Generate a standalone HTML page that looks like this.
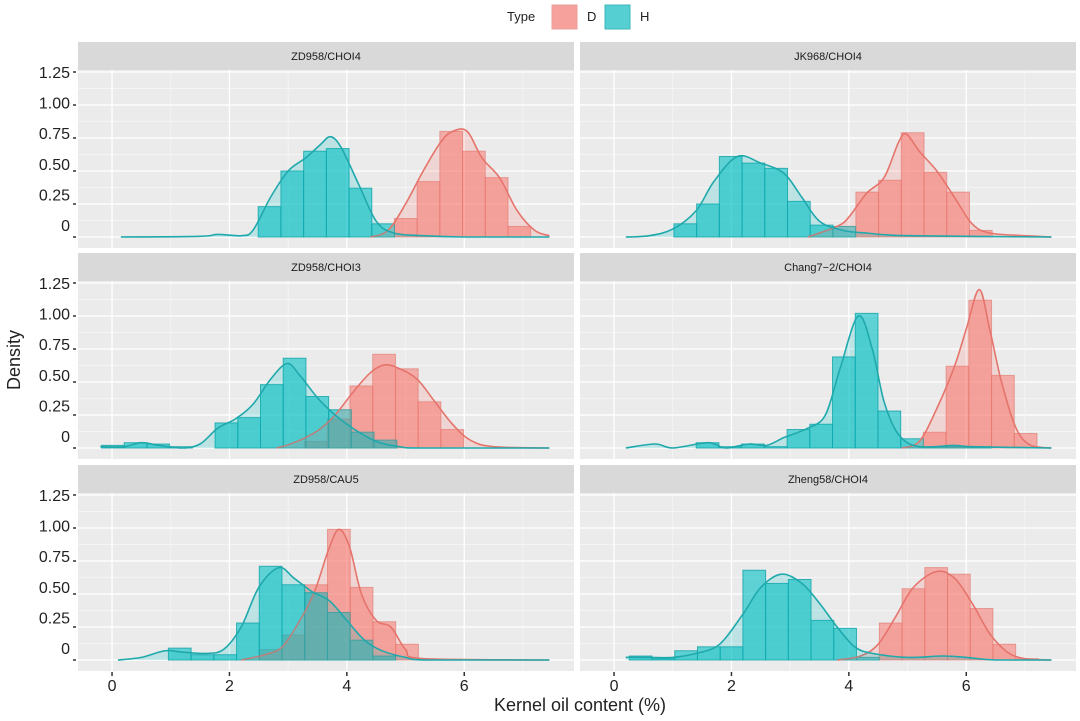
<!DOCTYPE html>
<html><head><meta charset="utf-8"><style>
body{margin:0;background:#fff;}
svg{display:block;font-family:"Liberation Sans",sans-serif;}
</style></head><body>
<svg id="chart" width="1080" height="721" viewBox="0 0 1080 721">
<text x="507" y="21" font-size="13" fill="#222">Type</text>
<rect x="552" y="5" width="25" height="24" fill="#f6a19b" stroke="#eaa09a"/>
<text x="587" y="21" font-size="13" fill="#222">D</text>
<rect x="605" y="5" width="25" height="24" fill="#55cfd2" stroke="#3fb7ba"/>
<text x="640" y="21" font-size="13" fill="#222">H</text>
<text transform="translate(20,360) rotate(-90)" text-anchor="middle" font-size="18" fill="#222">Density</text>
<text x="580" y="711" text-anchor="middle" font-size="18" fill="#222">Kernel oil content (%)</text>
<g id="panels"></g>
</svg>
<script>
const panelTitles = ["ZD958/CHOI4","JK968/CHOI4","ZD958/CHOI3","Chang7−2/CHOI4","ZD958/CAU5","Zheng58/CHOI4"];
const binWidth = 0.387;
const hStart = [2.49, 1.02, -0.18, 1.40, 0.96, 0.26];
const hHeights = [
 [0.23,0.50,0.65,0.67,0.37,0.10],
 [0.10,0.25,0.61,0.56,0.52,0.27,0.09,0.08],
 [0.02,0.04,0.03,0.01,0.0,0.19,0.23,0.48,0.68,0.39,0.29,0.12,0.06],
 [0.04,0.01,0.03,0.01,0.14,0.18,0.69,1.02,0.28,0.07,0.01,0.01,0.01],
 [0.09,0.04,0.04,0.28,0.71,0.57,0.51,0.36,0.15,0.03],
 [0.03,0.01,0.07,0.10,0.10,0.68,0.58,0.61,0.30,0.24,0.02]
];
const dStart = [4.81, 4.12, 3.28, 5.27, 2.51, 4.52];
const dHeights = [
 [0.14,0.42,0.80,0.65,0.45,0.08],
 [0.34,0.43,0.79,0.49,0.34,0.05],
 [0.05,0.22,0.47,0.71,0.60,0.35,0.14],
 [0.12,0.62,1.12,0.55,0.11],
 [0.08,0.19,0.57,0.99,0.55,0.29,0.12],
 [0.28,0.54,0.70,0.65,0.39,0.12,0.01]
];
const hDensity = [
 [[0.15,0],[1.5,0.005],[1.8,0.02],[2.2,0.01],[2.4,0.05],[2.7,0.3],[3.0,0.5],[3.3,0.6],[3.55,0.7],[3.72,0.76],[3.9,0.68],[4.2,0.4],[4.5,0.12],[4.8,0.03],[5.3,0.01],[6,0],[7.45,0]],
 [[0.2,0],[0.6,0.01],[1.0,0.06],[1.4,0.2],[1.7,0.42],[2.1,0.61],[2.5,0.56],[2.9,0.48],[3.2,0.3],[3.5,0.12],[3.9,0.05],[4.3,0.03],[5,0.01],[7.45,0]],
 [[-0.2,0.01],[0.2,0.01],[0.5,0.04],[0.8,0.02],[1.2,0.0],[1.5,0.03],[1.8,0.15],[2.1,0.22],[2.4,0.33],[2.7,0.52],[2.98,0.64],[3.2,0.55],[3.5,0.38],[3.8,0.25],[4.1,0.15],[4.5,0.05],[4.9,0.01],[5.3,0],[7.45,0]],
 [[0.2,0],[0.7,0.03],[1.0,0],[1.6,0.04],[1.9,0.0],[2.3,0.03],[2.6,0.02],[2.9,0.08],[3.3,0.15],[3.6,0.25],[3.85,0.6],[4.16,1.0],[4.4,0.75],[4.6,0.35],[4.85,0.1],[5.2,0.01],[5.8,0.02],[6.1,0.01],[7.45,0]],
 [[0.1,0],[0.5,0.02],[0.9,0.07],[1.2,0.06],[1.6,0.05],[1.9,0.08],[2.2,0.25],[2.5,0.55],[2.84,0.70],[3.1,0.62],[3.4,0.52],[3.7,0.45],[4.0,0.3],[4.3,0.15],[4.6,0.07],[5.0,0.02],[5.4,0],[7.45,0]],
 [[0.2,0.02],[0.6,0.02],[1.0,0.02],[1.4,0.05],[1.8,0.12],[2.2,0.35],[2.5,0.55],[2.85,0.65],[3.2,0.58],[3.5,0.43],[3.8,0.25],[4.1,0.1],[4.4,0.05],[5.0,0.02],[5.6,0.03],[6.0,0.02],[6.5,0],[7.45,0]]
];
const dDensity = [
 [[4.4,0],[4.7,0.05],[5.0,0.25],[5.3,0.5],[5.6,0.72],[5.8,0.8],[6.05,0.8],[6.3,0.6],[6.6,0.45],[6.9,0.2],[7.2,0.05],[7.45,0.01]],
 [[3.3,0],[3.8,0.08],[4.0,0.15],[4.3,0.33],[4.6,0.45],[4.85,0.72],[4.98,0.78],[5.2,0.65],[5.5,0.5],[5.8,0.3],[6.1,0.1],[6.4,0.03],[7,0.01],[7.45,0]],
 [[2.8,0],[3.1,0.04],[3.5,0.13],[3.8,0.25],[4.1,0.42],[4.4,0.57],[4.65,0.63],[4.9,0.6],[5.2,0.52],[5.5,0.35],[5.8,0.18],[6.1,0.06],[6.5,0.01],[7.45,0]],
 [[4.9,0],[5.2,0.05],[5.5,0.3],[5.8,0.62],[6.0,0.9],[6.22,1.2],[6.4,0.9],[6.6,0.5],[6.85,0.15],[7.1,0.02],[7.45,0]],
 [[2.2,0],[2.6,0.04],[2.9,0.10],[3.2,0.3],[3.45,0.52],[3.7,0.85],[3.87,0.99],[4.05,0.85],[4.25,0.5],[4.5,0.3],[4.75,0.25],[5.0,0.08],[5.3,0.01],[7.45,0]],
 [[3.8,0],[4.2,0.03],[4.5,0.12],[4.8,0.33],[5.1,0.55],[5.49,0.67],[5.8,0.62],[6.1,0.43],[6.4,0.2],[6.7,0.06],[7.0,0.01],[7.45,0]]
];
const yTicks = [0,0.25,0.5,0.75,1.0,1.25];
const yTickLabels = ["0","0.25","0.50","0.75","1.00","1.25"];
const xTicks = [0,2,4,6];
const xTickLabels = ["0","2","4","6"];

const NS="http://www.w3.org/2000/svg";
const root=document.getElementById('panels');
const colX0=[78,580], panelW=496, stripTops=[42,253,465], panelH=178;
const xMin=-0.58, pxPerUnit=58.7, pxPerDensity=132;
function mk(tag,attrs,parent){const e=document.createElementNS(NS,tag);for(const k in attrs)e.setAttribute(k,attrs[k]);parent.appendChild(e);return e;}
function smooth(pts){let d="M"+pts[0][0]+","+pts[0][1];for(let i=0;i<pts.length-1;i++){const p0=pts[Math.max(i-1,0)],p1=pts[i],p2=pts[i+1],p3=pts[Math.min(i+2,pts.length-1)];
const c1x=p1[0]+(p2[0]-p0[0])/6,c1y=p1[1]+(p2[1]-p0[1])/6,c2x=p2[0]-(p3[0]-p1[0])/6,c2y=p2[1]-(p3[1]-p1[1])/6;
d+=" C"+c1x.toFixed(1)+","+Math.min(c1y,zeroG).toFixed(1)+" "+c2x.toFixed(1)+","+Math.min(c2y,zeroG).toFixed(1)+" "+p2[0].toFixed(1)+","+p2[1].toFixed(1);}return d;}
let zeroG=0;
for(let p=0;p<6;p++){
  const col=p%2,row=Math.floor(p/2);
  const x0=colX0[col],st=stripTops[row],pt=st+28,zero=pt+167;
  zeroG=zero;
  const xs=v=>x0+(v-xMin)*pxPerUnit, ys=v=>zero-v*pxPerDensity;
  const g=mk('g',{},root);
  
  
  const strip=mk('rect',{x:x0,y:st,width:panelW,height:28,fill:'#d9d9d9'},g);
  
  
  const stt=mk('text',{x:x0+panelW/2,y:st+18,'text-anchor':'middle','font-size':11,fill:'#1a1a1a'},g);
  stt.textContent=panelTitles[p];
  
  
  const bg=mk('rect',{x:x0,y:pt,width:panelW,height:panelH,fill:'#ebebeb'},g);
  
  
  for(let i=0;i<yTicks.length;i++){
    mk('line',{x1:x0,x2:x0+panelW,y1:ys(yTicks[i]),y2:ys(yTicks[i]),stroke:'#fff','stroke-width':1.3},g);
    if(i<yTicks.length-1){const m=(yTicks[i]+yTicks[i+1])/2;mk('line',{x1:x0,x2:x0+panelW,y1:ys(m),y2:ys(m),stroke:'#f7f7f7','stroke-width':0.7},g);}
  }
  for(let i=0;i<xTicks.length;i++){
    mk('line',{x1:xs(xTicks[i]),x2:xs(xTicks[i]),y1:pt,y2:pt+panelH,stroke:'#fff','stroke-width':1.3},g);
    mk('line',{x1:xs(xTicks[i]+1),x2:xs(xTicks[i]+1),y1:pt,y2:pt+panelH,stroke:'#f7f7f7','stroke-width':0.7},g);
  }
  dHeights[p].forEach((h,i)=>{ if(h<=0)return;
    const r=mk('rect',{x:xs(dStart[p]+i*binWidth),y:ys(h),width:binWidth*pxPerUnit,height:h*pxPerDensity,fill:'#F8766D','fill-opacity':0.55,stroke:'#e0736b','stroke-opacity':0.6,'stroke-width':1},g);
    
    
  });
  hHeights[p].forEach((h,i)=>{ if(h<=0)return;
    const r=mk('rect',{x:xs(hStart[p]+i*binWidth),y:ys(h),width:binWidth*pxPerUnit,height:h*pxPerDensity,fill:'#00BFC4','fill-opacity':0.6,stroke:'#11a3a6','stroke-opacity':0.8,'stroke-width':1},g);
    
    
  });
  [[dDensity[p],'#F8766D','#e5746c','d'],[hDensity[p],'#00BFC4','#1fa9ac','h']].forEach(([pts,fc,lc,nm])=>{
    const sp=pts.map(q=>[xs(q[0]),ys(q[1])]);
    const d=smooth(sp);
    const f=mk('path',{d:d+" L"+sp[sp.length-1][0]+","+zero+" L"+sp[0][0]+","+zero+" Z",fill:fc,'fill-opacity':0.2,stroke:'none'},g);
    
    
    const l=mk('path',{d:d,fill:'none',stroke:lc,'stroke-width':1.6},g);
    
    
  });
  if(col===0){
    for(let i=0;i<yTicks.length;i++){
      mk('line',{x1:x0-5,x2:x0-2,y1:ys(yTicks[i]),y2:ys(yTicks[i]),stroke:'#333','stroke-width':1.5},g);
      const t=mk('text',{x:x0-8,y:zero-12-i*30.6+6,'text-anchor':'end','font-size':16,fill:'#222'},g);
      t.textContent=yTickLabels[i];
      
      
    }
  }
  if(row===2){
    for(let i=0;i<xTicks.length;i++){
      mk('line',{x1:xs(xTicks[i]),x2:xs(xTicks[i]),y1:pt+panelH+1,y2:pt+panelH+5,stroke:'#333','stroke-width':1.5},g);
      const t=mk('text',{x:xs(xTicks[i]),y:pt+panelH+20,'text-anchor':'middle','font-size':16,fill:'#222'},g);
      t.textContent=xTickLabels[i];
      
      
    }
  }
}
</script>
</body></html>
